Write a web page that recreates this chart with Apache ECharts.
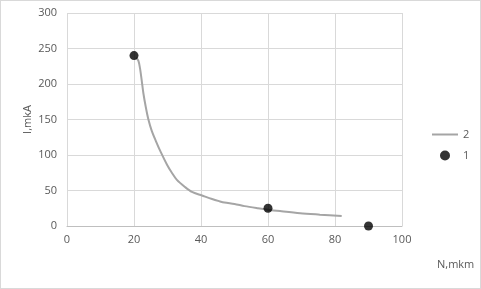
<!DOCTYPE html>
<html>
<head>
<meta charset="utf-8">
<script src="https://cdn.jsdelivr.net/npm/echarts@6/dist/echarts.min.js"></script>
<style>
html,body{margin:0;padding:0;background:#fff;}
#c{width:479px;height:287px;border:1px solid #d9d9d9;}
</style>
</head>
<body>
<div id="c"></div>
<script>
const curveX = [20.6, 21.3, 21.8, 22.3, 22.8, 23.5, 24.3, 25.3, 26.5, 28, 29.9, 31.3, 32.8, 35.2, 37.3, 40.3, 43.3, 45.4, 47, 50, 53, 57, 60, 63.6, 69.6, 75.5, 82];
const curveY = [237, 233, 222, 205, 187, 168, 150, 134, 120, 104, 86, 75, 65, 55, 48, 43, 38, 35, 33, 31, 28, 25, 23, 21, 18, 16, 14];
const pointsX = [20, 60, 90];
const pointsY = [240, 25, 0];
const xName = 'N,mkm';
const yName = 'I,mkA';
const seriesNames = ['2', '1'];

const chart = echarts.init(document.getElementById('c'));
const txt = {color: '#595959', fontFamily: 'Open Sans, Liberation Sans, sans-serif', fontSize: 11};
chart.setOption({
  animation: false,
  grid: {left: 66, right: 78, top: 12, bottom: 62},
  legend: {
    orient: 'vertical', left: 426, top: 123, itemGap: 10,
    itemWidth: 26, itemHeight: 10,
    textStyle: txt,
    data: [
      {name: seriesNames[0], icon: 'path://M0,4 L26,4 L26,6 L0,6 Z'},
      {name: seriesNames[1], icon: 'circle'}
    ]
  },
  xAxis: {
    type: 'value', min: 0, max: 100, interval: 20,
    axisLine: {show: true, lineStyle: {color: '#bfbfbf'}},
    axisTick: {show: false},
    axisLabel: Object.assign({margin: 8}, txt),
    splitLine: {show: true, lineStyle: {color: '#d9d9d9'}}
  },
  yAxis: {
    type: 'value', min: 0, max: 300, interval: 50,
    name: yName, nameLocation: 'middle', nameGap: 34, nameRotate: 90,
    nameMoveOverlap: false,
    nameTextStyle: txt,
    axisLine: {show: false},
    axisTick: {show: false},
    axisLabel: Object.assign({margin: 10}, txt),
    splitLine: {show: true, lineStyle: {color: '#d9d9d9'}}
  },
  graphic: [{
    type: 'text', left: 436, top: 258,
    style: {text: xName, fill: '#595959', font: '11px "Open Sans", "Liberation Sans", sans-serif'}
  }],
  series: [
    {
      name: seriesNames[0], type: 'line', smooth: 0.3, showSymbol: false,
      lineStyle: {color: '#a5a5a5', width: 2}, itemStyle: {color: '#a5a5a5'},
      data: curveX.map((x, i) => [x, curveY[i]]), z: 2
    },
    {
      name: seriesNames[1], type: 'scatter', symbol: 'circle', symbolSize: 9,
      itemStyle: {color: '#000'},
      data: pointsX.map((x, i) => [x, pointsY[i]]), z: 3
    }
  ]
});
</script>
</body>
</html>
